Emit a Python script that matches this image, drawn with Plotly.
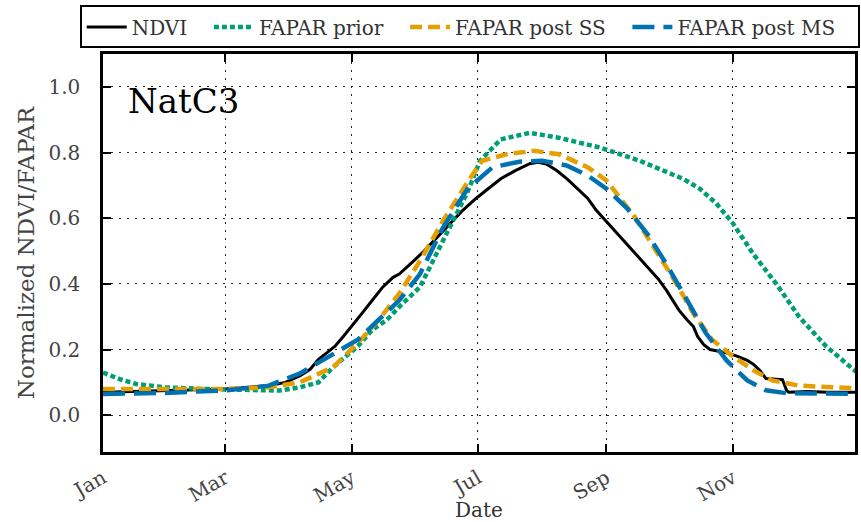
import plotly.graph_objects as go
import pandas as pd

# Day-of-year positions and values
ndvi_day = [0, 15, 30, 45, 59, 70, 80, 88, 95, 100, 104, 108, 112, 116, 120, 125, 130, 135, 140, 143,
            150, 155, 161, 167, 173, 180, 186, 192, 199, 206, 210, 214, 219, 224, 229, 234, 238, 243,
            248, 253, 258, 263, 268, 272, 275, 278, 282, 285, 287, 290, 293, 297, 301, 306, 311, 314,
            317, 320, 324, 328, 330, 331, 340, 350, 364]
ndvi_val = [0.07, 0.072, 0.075, 0.078, 0.08, 0.085, 0.09, 0.10, 0.12, 0.14, 0.17, 0.19, 0.21, 0.24, 0.27,
            0.31, 0.35, 0.39, 0.42, 0.43, 0.47, 0.50, 0.54, 0.58, 0.62, 0.66, 0.69, 0.72, 0.745, 0.766,
            0.77, 0.765, 0.745, 0.72, 0.69, 0.66, 0.625, 0.59, 0.555, 0.52, 0.485, 0.45, 0.415, 0.38,
            0.35, 0.32, 0.29, 0.27, 0.24, 0.215, 0.20, 0.195, 0.19, 0.18, 0.167, 0.155, 0.137, 0.112,
            0.11, 0.108, 0.075, 0.07, 0.072, 0.07, 0.07]

prior_day = [0, 8, 16, 30, 48, 70, 85, 95, 104, 111, 123, 130, 137, 143, 153, 164, 176, 182, 192, 206,
             220, 240, 259, 280, 288, 296, 304, 314, 325, 336, 349, 364]
prior_val = [0.13, 0.11, 0.095, 0.085, 0.08, 0.075, 0.075, 0.085, 0.10, 0.146, 0.21, 0.26, 0.29, 0.33,
             0.39, 0.53, 0.68, 0.775, 0.84, 0.86, 0.845, 0.815, 0.775, 0.72, 0.69, 0.645, 0.585, 0.49,
             0.40, 0.30, 0.21, 0.13]

ss_day = [0, 30, 59, 80, 95, 111, 123, 133, 143, 153, 164, 176, 183, 195, 208, 220, 234, 243, 256, 265,
          275, 285, 294, 304, 314, 323, 336, 364]
ss_val = [0.08, 0.08, 0.08, 0.085, 0.10, 0.146, 0.22, 0.29, 0.37, 0.47, 0.59, 0.71, 0.775, 0.795, 0.805,
          0.795, 0.755, 0.715, 0.61, 0.52, 0.42, 0.31, 0.23, 0.18, 0.137, 0.106, 0.09, 0.082]

ms_day = [0, 30, 60, 80, 95, 123, 133, 143, 153, 164, 176, 188, 201, 212, 224, 234, 243, 253, 263, 272,
          282, 291, 301, 311, 320, 330, 364]
ms_val = [0.065, 0.068, 0.076, 0.09, 0.127, 0.23, 0.29, 0.35, 0.43, 0.57, 0.69, 0.755, 0.772, 0.775,
          0.76, 0.73, 0.69, 0.63, 0.55, 0.46, 0.35, 0.25, 0.167, 0.106, 0.076, 0.067, 0.065]

series_names = ["NDVI", "FAPAR prior", "FAPAR post SS", "FAPAR post MS"]
y_ticks = [0.0, 0.2, 0.4, 0.6, 0.8, 1.0]

start = pd.Timestamp("2015-01-01")
def to_dates(days):
    return [start + pd.Timedelta(days=d) for d in days]

font_family = "DejaVu Serif"
pad = "\u00a0\u00a0\u2009"
fig = go.Figure()
fig.add_trace(go.Scatter(x=to_dates(ndvi_day), y=ndvi_val, name=series_names[0] + pad, mode="lines",
                         line=dict(color="black", width=3)))
fig.add_trace(go.Scatter(x=to_dates(prior_day), y=prior_val, name=series_names[1] + pad, mode="lines",
                         line=dict(color="#009E73", width=4.5, dash="5px,3px")))
fig.add_trace(go.Scatter(x=to_dates(ss_day), y=ss_val, name=series_names[2] + pad, mode="lines",
                         line=dict(color="#E69F00", width=4.5, dash="12px,6px")))
fig.add_trace(go.Scatter(x=to_dates(ms_day), y=ms_val, name=series_names[3] + pad, mode="lines",
                         line=dict(color="#0072B2", width=4.5, dash="22px,9px")))

axis_common = dict(showline=True, linecolor="black", linewidth=2.5, mirror="ticks",
                   ticks="inside", ticklen=8, tickwidth=1.5, tickcolor="black",
                   showgrid=True, gridcolor="#222", griddash="2px,6px", gridwidth=1.2,
                   zeroline=False, automargin=False,
                   tickfont=dict(family=font_family, size=20, color="#444"))

fig.update_xaxes(range=[start, start + pd.Timedelta(days=363)], dtick="M2", tick0="2015-01-01",
                 tickformat="%b", tickangle=-30, ticklabelstandoff=4,
                 title=dict(text="Date", font=dict(family=font_family, size=20, color="#333"), standoff=2),
                 **axis_common)
fig.update_yaxes(range=[-0.112, 1.1], tickvals=y_ticks, tickformat=".1f", ticklabelstandoff=16,
                 title=dict(text="Normalized NDVI/FAPAR", font=dict(family=font_family, size=23, color="#444"),
                            standoff=8),
                 **axis_common)

fig.add_annotation(text="NatC3", xref="paper", yref="paper", x=0.03, y=0.882, xanchor="left",
                   yanchor="middle", showarrow=False, font=dict(family=font_family, size=34, color="black"))

fig.update_layout(
    width=861, height=522,
    margin=dict(l=103, r=6, t=54, b=70),
    plot_bgcolor="white", paper_bgcolor="white",
    legend=dict(orientation="h", x=-0.031, y=1.122, xanchor="left", yanchor="top",
                bordercolor="black", borderwidth=2, bgcolor="white",
                font=dict(family=font_family, size=20, color="#333"),
                itemwidth=40, traceorder="normal"),
    showlegend=True,
)

fig.write_html("out.html")
